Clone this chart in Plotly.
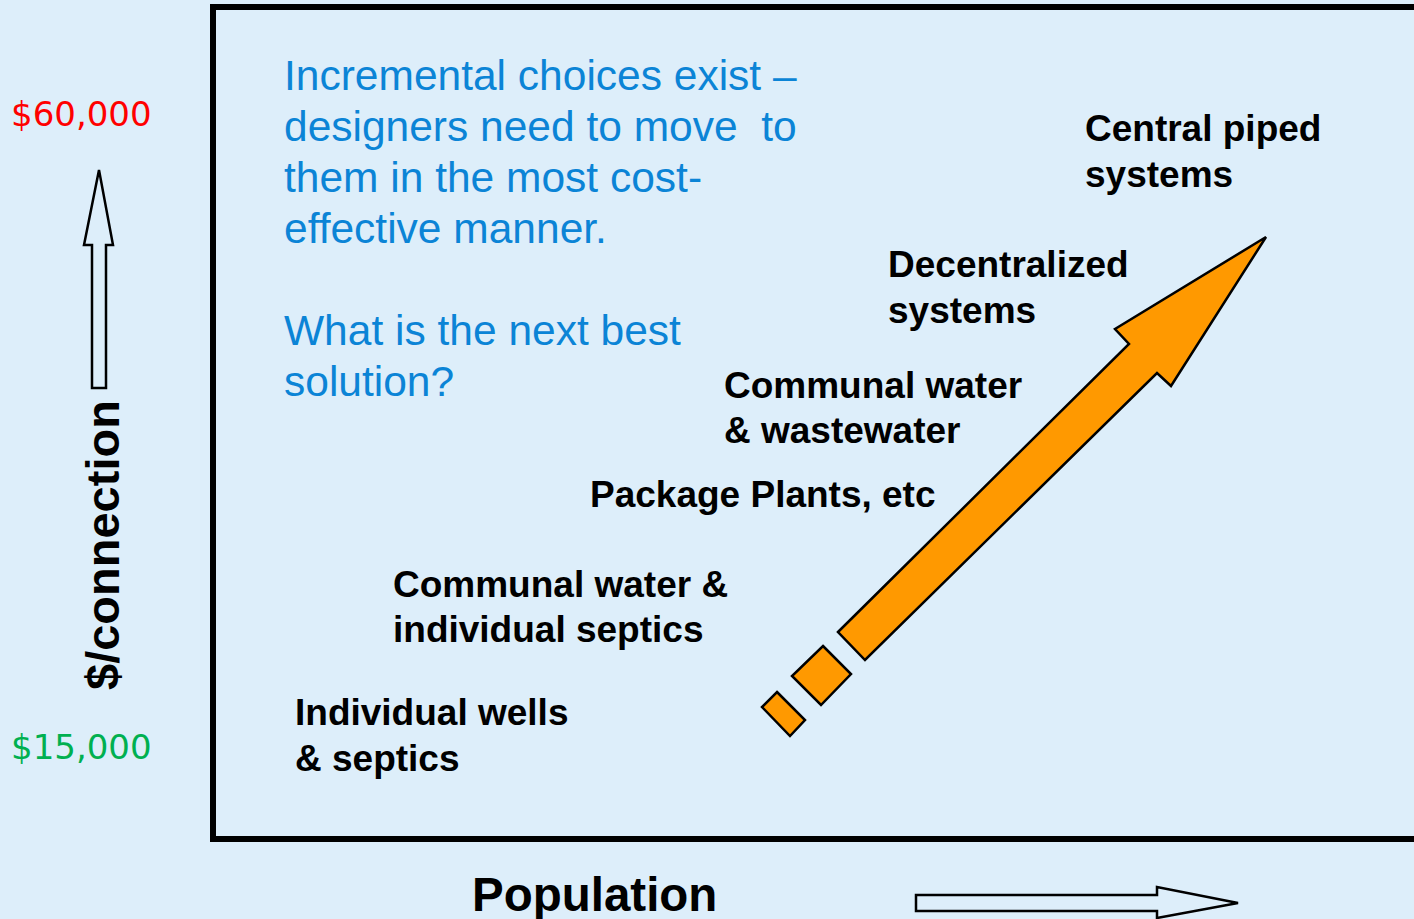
import plotly.graph_objects as go

W, H = 1414, 919
BG = "#DDEEFA"
ORANGE = "#FF9900"
BLUE = "#0B84D6"

# ---- text content ----
blue_lines = ["Incremental choices exist \u2013", "designers need to move  to",
              "them in the most cost-", "effective manner.",
              "What is the next best", "solution?"]
blue_x = [282, 282, 282, 282, 282, 282]
blue_y = [75, 126, 177, 228, 330, 381]

label_lines = ["Central piped", "systems",
               "Decentralized", "systems",
               "Communal water", "& wastewater",
               "Package Plants, etc",
               "Communal water &", "individual septics",
               "Individual wells", "& septics"]
label_x = [1083, 1083, 886, 886, 722, 722, 588, 391, 391, 293, 293]
label_y = [128, 174, 264, 310, 385, 430, 494, 584, 629, 712, 758]

cost_labels = ["$60,000", "$15,000"]
cost_colors = ["#FF0000", "#00B050"]
cost_x = [9, 9]
cost_y = [114, 747]

axis_y_title = "$/connection"
axis_x_title = "Population"

# ---- shape outlines (pixel space of the slide) ----
main_arrow_x = [838, 1129, 1115, 1266, 1171, 1157, 865]
main_arrow_y = [632, 344, 329, 237, 386, 373, 660]
block_x = [823, 851, 821, 792]
block_y = [646, 674, 705, 676]
small_x = [777, 805, 790, 762]
small_y = [692, 720, 736, 707]
up_arrow_x = [92, 92, 84, 99, 113, 106, 106]
up_arrow_y = [388, 245, 245, 170, 245, 245, 388]
right_arrow_x = [916, 1157, 1157, 1238, 1157, 1157, 916]
right_arrow_y = [895, 895, 887, 903, 918, 911, 911]


def path(xs, ys):
    return "M " + " L ".join(f"{a},{b}" for a, b in zip(xs, ys)) + " Z"


fig = go.Figure()
fig.add_trace(go.Scatter(x=[0, W], y=[0, H], mode="markers",
                         marker=dict(opacity=0), hoverinfo="skip", showlegend=False))

shapes = [
    dict(type="rect", xref="x", yref="y", x0=213, x1=1500, y0=7, y1=839,
         line=dict(color="black", width=6), fillcolor="rgba(0,0,0,0)"),
    dict(type="path", xref="x", yref="y", path=path(main_arrow_x, main_arrow_y),
         fillcolor=ORANGE, line=dict(color="black", width=2.5)),
    dict(type="path", xref="x", yref="y", path=path(block_x, block_y),
         fillcolor=ORANGE, line=dict(color="black", width=2.5)),
    dict(type="path", xref="x", yref="y", path=path(small_x, small_y),
         fillcolor=ORANGE, line=dict(color="black", width=2.5)),
    dict(type="path", xref="x", yref="y", path=path(up_arrow_x, up_arrow_y),
         fillcolor=BG, line=dict(color="black", width=2.5)),
    dict(type="path", xref="x", yref="y", path=path(right_arrow_x, right_arrow_y),
         fillcolor=BG, line=dict(color="black", width=2.5)),
]

ann = []
for t, x, y in zip(blue_lines, blue_x, blue_y):
    ann.append(dict(text=t, x=x, y=y, xref="x", yref="y", xanchor="left", yanchor="middle",
                    showarrow=False, font=dict(family="Liberation Sans, Arial", size=42.5, color=BLUE)))
for t, x, y in zip(label_lines, label_x, label_y):
    ann.append(dict(text=f"<b>{t}</b>", x=x, y=y, xref="x", yref="y", xanchor="left", yanchor="middle",
                    showarrow=False, font=dict(family="Liberation Sans, Arial", size=37, color="black")))
for t, c, x, y in zip(cost_labels, cost_colors, cost_x, cost_y):
    ann.append(dict(text=t.replace("$", "&#36;"), x=x, y=y, xref="x", yref="y", xanchor="left", yanchor="middle",
                    showarrow=False, font=dict(family="DejaVu Sans", size=34, color=c)))
ann.append(dict(text="<b>" + axis_y_title.replace("$", "&#36;") + "</b>", x=102, y=545, xref="x", yref="y",
                textangle=-90, xanchor="center", yanchor="middle", showarrow=False,
                font=dict(family="Liberation Sans, Arial", size=47, color="black")))
ann.append(dict(text=f"<b>{axis_x_title}</b>", x=470, y=894, xref="x", yref="y",
                xanchor="left", yanchor="middle", showarrow=False,
                font=dict(family="Liberation Sans, Arial", size=47.5, color="black")))

fig.update_layout(
    width=W, height=H, margin=dict(l=0, r=0, t=0, b=0),
    paper_bgcolor=BG, plot_bgcolor=BG,
    xaxis=dict(range=[0, W], visible=False, fixedrange=True),
    yaxis=dict(range=[H, 0], visible=False, fixedrange=True),
    shapes=shapes, annotations=ann, showlegend=False,
)
fig.write_html("out.html", config={"displayModeBar": False},
               post_script="document.body.style.margin='0';document.body.style.background='" + BG + "';")
